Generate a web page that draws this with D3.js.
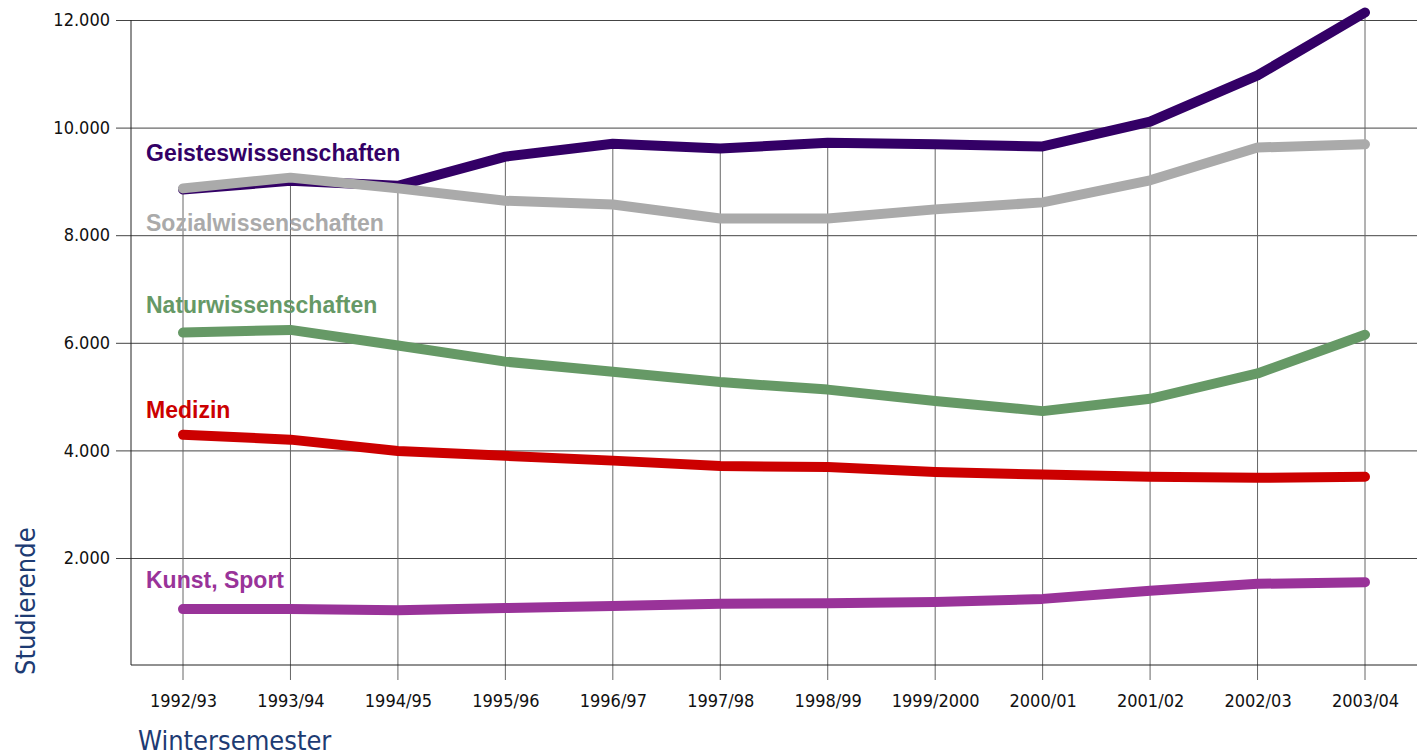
<!DOCTYPE html>
<html lang="de">
<head>
<meta charset="utf-8">
<title>Studierende nach Fächergruppen</title>
<style>
 body { margin: 0; background: #fff; }
 .tick text { font-family: "Liberation Sans Narrow", "DejaVu Sans Condensed", sans-serif; font-size: 18px; fill: #111; }
 .lbl { font-family: "Liberation Sans", Arial, sans-serif; font-weight: bold; font-size: 23px; }
 .title { font-family: "Liberation Sans Narrow", "DejaVu Sans Condensed", sans-serif; font-size: 27px; fill: #1d3b73; }
</style>
<script src="https://cdn.jsdelivr.net/npm/d3@7"></script>
</head>
<body>
<script>
// Wintersemester
const semester = ['1992/93', '1993/94', '1994/95', '1995/96', '1996/97', '1997/98',
                  '1998/99', '1999/2000', '2000/01', '2001/02', '2002/03', '2003/04'];

// Studierende je Fächergruppe
const geistes = [8850, 9010, 8920, 9460, 9700, 9610, 9720, 9690, 9650, 10110, 10970, 12140];
const sozial  = [8870, 9070, 8870, 8640, 8570, 8310, 8310, 8480, 8610, 9020, 9630, 9690];
const natur   = [6190, 6240, 5950, 5650, 5460, 5270, 5130, 4920, 4730, 4960, 5430, 6150];
const medizin = [4290, 4200, 3990, 3900, 3810, 3710, 3690, 3600, 3550, 3510, 3490, 3510];
const kunst   = [1050, 1050, 1030, 1070, 1110, 1150, 1160, 1180, 1240, 1390, 1520, 1550];

const yTicks = [2000, 4000, 6000, 8000, 10000, 12000];

const series = [
  {name: 'Geisteswissenschaften', values: geistes, color: '#330066', dy: -28},
  {name: 'Sozialwissenschaften', values: sozial, color: '#aaaaaa', dy: 43},
  {name: 'Naturwissenschaften', values: natur, color: '#669966', dy: -20},
  {name: 'Medizin', values: medizin, color: '#cc0000', dy: -17},
  {name: 'Kunst, Sport', values: kunst, color: '#993399', dy: -21}
];

const W = 1417, H = 756;
const m = {left: 131, right: 1417, top: 20, bottom: 665};

const svg = d3.select('body').append('svg').attr('width', W).attr('height', H);

const x = d3.scalePoint().domain(semester).range([183, 1365]);
const y = d3.scaleLinear().domain([0, 12000]).range([m.bottom + 0.6, m.top]);

const de = d3.formatLocale({decimal: ',', thousands: '.', grouping: [3], currency: ['', ' €']});
const fmt = de.format(',d');

// horizontal grid + y labels
const yAxis = svg.append('g')
  .attr('transform', 'translate(116,0)')
  .call(d3.axisLeft(y).tickValues(yTicks).tickFormat(fmt).tickSize(-(m.right - 116)).tickPadding(6));
yAxis.select('.domain').remove();
yAxis.selectAll('.tick line').attr('stroke', '#444');

// drop lines from the highest value down to the ticks
const maxVal = semester.map((s, i) => d3.max(series, d => d.values[i]));
svg.append('g').selectAll('line')
  .data(semester)
  .join('line')
  .attr('x1', d => x(d)).attr('x2', d => x(d))
  .attr('y1', (d, i) => y(maxVal[i])).attr('y2', m.bottom + 15)
  .attr('stroke', '#666').attr('stroke-width', 1);

// x labels
const xAxis = svg.append('g')
  .attr('transform', 'translate(0,' + m.bottom + ')')
  .call(d3.axisBottom(x).tickSize(0).tickPadding(29));
xAxis.select('.domain').remove();

// axis lines
svg.append('line').attr('x1', m.left).attr('x2', m.left).attr('y1', m.top).attr('y2', m.bottom)
  .attr('stroke', '#222');
svg.append('line').attr('x1', m.left).attr('x2', m.right).attr('y1', m.bottom).attr('y2', m.bottom)
  .attr('stroke', '#222');

// series lines
const line = d3.line().x((d, i) => x(semester[i])).y(d => y(d));
svg.append('g').selectAll('path')
  .data(series)
  .join('path')
  .attr('d', d => line(d.values))
  .attr('fill', 'none')
  .attr('stroke', d => d.color)
  .attr('stroke-width', 10)
  .attr('stroke-linecap', 'round')
  .attr('stroke-linejoin', 'round');

// series labels
svg.append('g').selectAll('text')
  .data(series)
  .join('text')
  .attr('class', 'lbl')
  .attr('x', 146)
  .attr('y', d => y(d.values[0]) + d.dy)
  .attr('fill', d => d.color)
  .text(d => d.name);

// axis titles
svg.append('text').attr('class', 'title')
  .attr('x', 138).attr('y', 750)
  .text('Wintersemester');
svg.append('text').attr('class', 'title')
  .attr('transform', 'translate(35,675)rotate(-90)')
  .text('Studierende');
</script>
</body>
</html>
